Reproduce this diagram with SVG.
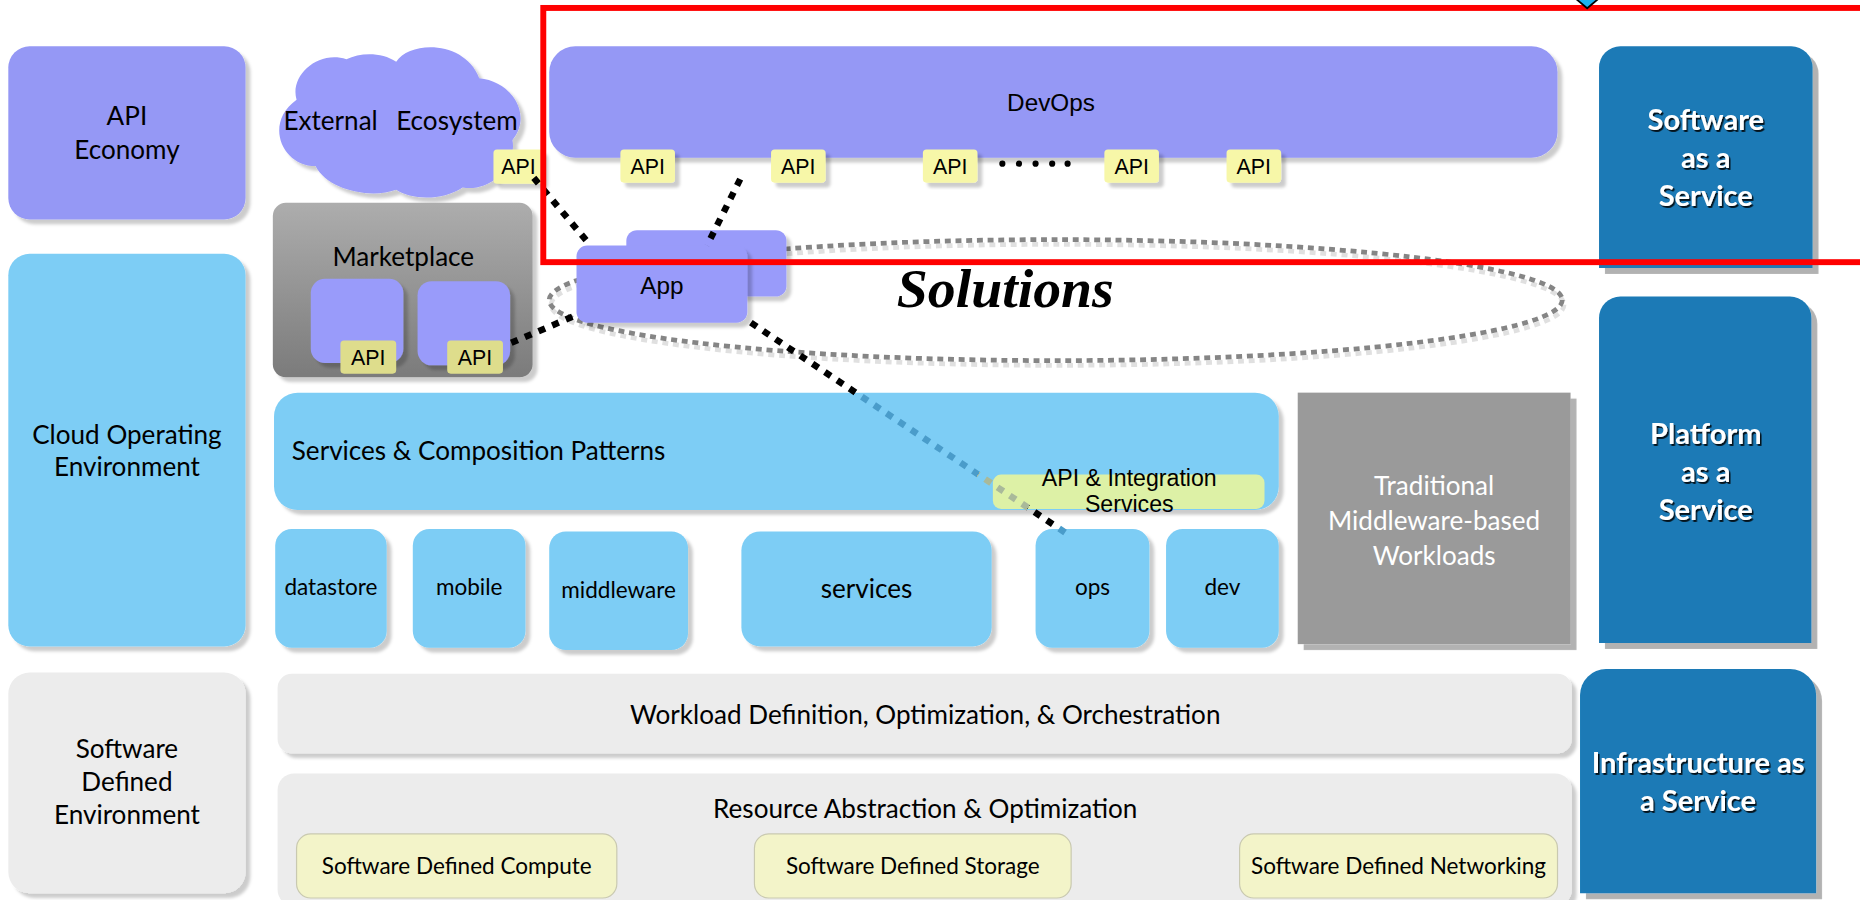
<svg xmlns="http://www.w3.org/2000/svg" width="1860" height="900" viewBox="0 0 1860 900">
<defs>
<style>
.t{font-family:Lato,"Noto Sans",sans-serif;font-size:22px;fill:#000;text-anchor:middle}
.ts{font-family:Lato,"Noto Sans",sans-serif;font-size:19px;fill:#000;text-anchor:middle}
.ta{font-family:"Liberation Sans",Arial,sans-serif;font-size:18px;fill:#000;text-anchor:middle}
.tb{font-family:Lato,"Noto Sans",sans-serif;font-size:24.5px;font-weight:bold;fill:#fff;text-anchor:middle}
.tw{font-family:Lato,"Noto Sans",sans-serif;font-size:22px;fill:#fff;text-anchor:middle}
.pw{fill:#9598f5}
.pw2{fill:#999bfa}
.lb{fill:#7dcdf5}
.gr{fill:#ececec}
.tag{fill:#f7f7a8}
.mtag{fill:#dedd8c}
.sd{fill:#f3f4c9;stroke:#c9c9b0;stroke-width:1}
.blue{fill:#1a7ab6}
.conn{fill:none;stroke:#000;stroke-width:5.5;stroke-dasharray:6 6.5}
</style>
<filter id="sh" x="-10%" y="-10%" width="130%" height="130%">
<feDropShadow dx="4" dy="4" stdDeviation="1.2" flood-color="#000" flood-opacity="0.2"/>
</filter>
<filter id="shb" x="-10%" y="-10%" width="130%" height="130%">
<feDropShadow dx="5" dy="5" stdDeviation="0.6" flood-color="#000" flood-opacity="0.3"/>
</filter>
<filter id="tsh" x="-10%" y="-20%" width="130%" height="150%">
<feDropShadow dx="1.3" dy="1.6" stdDeviation="0.6" flood-color="#000" flood-opacity="0.85"/>
</filter>
<linearGradient id="mkt" x1="0" y1="0" x2="0" y2="1">
<stop offset="0" stop-color="#adadad"/>
<stop offset="1" stop-color="#7b7b7b"/>
</linearGradient>
<linearGradient id="c4g" gradientUnits="userSpaceOnUse" x1="633" y1="272" x2="898" y2="449">
<stop offset="0.333" stop-color="#000"/>
<stop offset="0.333" stop-color="#4a9cca"/>
<stop offset="0.723" stop-color="#4a9cca"/>
<stop offset="0.723" stop-color="#a9b99a"/>
<stop offset="0.881" stop-color="#a9b99a"/>
<stop offset="0.881" stop-color="#000"/>
<stop offset="0.975" stop-color="#000"/>
<stop offset="0.975" stop-color="#4a9cca"/>
</linearGradient>
</defs>
<rect width="1860" height="900" fill="#fff"/>
<g transform="scale(1.18622)">

<g id="n-api-economy">
<rect class="pw" x="7" y="39" width="200" height="146" rx="18" filter="url(#sh)"/>
<text class="t" x="107" y="105">API</text>
<text class="t" x="107" y="134">Economy</text>
</g>

<g id="n-cloud-operating-environment">
<rect class="lb" x="7" y="214" width="200" height="331" rx="18" filter="url(#sh)"/>
<text class="t" x="107" y="374">Cloud Operating</text>
<text class="t" x="107" y="401">Environment</text>
</g>

<g id="n-software-defined-environment">
<rect class="gr" x="7" y="567" width="200" height="186" rx="18" filter="url(#sh)"/>
<text class="t" x="107" y="639">Software</text>
<text class="t" x="107" y="667">Defined</text>
<text class="t" x="107" y="695">Environment</text>
</g>

<g id="n-external-ecosystem">
<path class="pw2" filter="url(#sh)" d="M250 84 C244 64 268 42 292 50 C304 44 322 44 334 52 C346 34 392 34 404 66 C430 68 450 96 432 118 C436 140 414 162 390 158 C372 170 346 168 334 160 C312 168 276 160 266 140 C238 140 222 104 250 84 Z"/>
<text class="t" y="110" style="text-anchor:start"><tspan x="239">External</tspan><tspan x="334">Ecosystem</tspan></text>
</g>
<g id="n-api-external">
<rect class="tag" x="416" y="126" width="42" height="29" rx="3" filter="url(#sh)"/>
<text class="ta" x="437" y="147">API</text>
</g>

<g id="n-marketplace">
<rect x="230" y="171" width="219" height="147" rx="11" fill="url(#mkt)" filter="url(#sh)"/>
<text class="t" x="340" y="224">Marketplace</text>
<rect class="pw2" x="262" y="235" width="78" height="71" rx="12" filter="url(#sh)"/>
<rect class="pw2" x="352" y="237" width="78" height="71" rx="12" filter="url(#sh)"/>
</g>
<g id="n-api-market-1">
<rect class="mtag" x="287" y="287" width="47" height="28" rx="3"/>
<text class="ta" x="310.5" y="308">API</text>
</g>
<g id="n-api-market-2">
<rect class="mtag" x="377" y="287" width="47" height="28" rx="3"/>
<text class="ta" x="400.5" y="308">API</text>
</g>

<g id="n-devops">
<rect class="pw" x="463" y="39" width="850" height="94" rx="22" filter="url(#sh)"/>
<text class="ta" x="886" y="94" style="font-size:20.5px">DevOps</text>
</g>
<g id="n-api-devops-1"><rect class="tag" x="523" y="126" width="46" height="28" rx="3" filter="url(#sh)"/><text class="ta" x="546" y="147">API</text></g>
<g id="n-api-devops-2"><rect class="tag" x="650" y="126" width="46" height="28" rx="3" filter="url(#sh)"/><text class="ta" x="673" y="147">API</text></g>
<g id="n-api-devops-3"><rect class="tag" x="778" y="126" width="46" height="28" rx="3" filter="url(#sh)"/><text class="ta" x="801" y="147">API</text></g>
<g id="n-api-devops-dots" fill="#000">
<circle cx="845" cy="138" r="2.6"/><circle cx="859" cy="138" r="2.6"/><circle cx="873" cy="138" r="2.6"/><circle cx="887" cy="138" r="2.6"/><circle cx="900" cy="138" r="2.6"/>
</g>
<g id="n-api-devops-4"><rect class="tag" x="931" y="126" width="46" height="28" rx="3" filter="url(#sh)"/><text class="ta" x="954" y="147">API</text></g>
<g id="n-api-devops-5"><rect class="tag" x="1034" y="126" width="46" height="28" rx="3" filter="url(#sh)"/><text class="ta" x="1057" y="147">API</text></g>

<g id="n-solutions">
<ellipse cx="890" cy="254" rx="427" ry="51" fill="none" stroke="#000" stroke-opacity="0.12" stroke-width="4" stroke-dasharray="5 4" transform="translate(1.5 3)"/>
<ellipse cx="890" cy="253" rx="427" ry="51" fill="none" stroke="#858585" stroke-width="4" stroke-dasharray="5 4"/>
<text x="756" y="259" style="font-family:'Liberation Serif','DejaVu Serif',serif;font-style:italic;font-weight:bold;font-size:47px;fill:#000">Solutions</text>
</g>

<g id="n-app">
<rect class="pw2" x="528" y="194" width="135" height="56" rx="9" filter="url(#sh)"/>
<rect class="pw2" x="486" y="207" width="144" height="65" rx="9" filter="url(#sh)"/>
<text class="ta" x="558" y="248" style="font-size:20.5px">App</text>
</g>

<g id="n-saas">
<path class="blue" filter="url(#shb)" d="M1348 226 V57 A18 18 0 0 1 1366 39 H1510 A18 18 0 0 1 1528 57 V226 Z"/>
<g filter="url(#tsh)">
<text class="tb" x="1438" y="110">Software</text>
<text class="tb" x="1438" y="142">as a</text>
<text class="tb" x="1438" y="174">Service</text>
</g>
</g>

<g id="n-services-composition">
<rect class="lb" x="231" y="331" width="847" height="99" rx="20" filter="url(#sh)"/>
<text class="t" x="246" y="388" style="text-anchor:start">Services &amp; Composition Patterns</text>
</g>
<g id="n-api-integration">
<rect x="837" y="400" width="229" height="29" rx="7" fill="#ddf1a6"/>
<text class="ta" x="952" y="410" style="font-size:19.5px">API &amp; Integration</text>
<text class="ta" x="952" y="432" style="font-size:19.5px">Services</text>
</g>

<g id="n-datastore"><rect class="lb" x="232" y="446" width="94" height="100" rx="14" filter="url(#sh)"/><text class="ts" x="279" y="502">datastore</text></g>
<g id="n-mobile"><rect class="lb" x="348" y="446" width="95" height="100" rx="14" filter="url(#sh)"/><text class="ts" x="395.5" y="502">mobile</text></g>
<g id="n-middleware"><rect class="lb" x="463" y="448" width="117" height="100" rx="14" filter="url(#sh)"/><text class="ts" x="521.5" y="504">middleware</text></g>
<g id="n-services"><rect class="lb" x="625" y="448" width="211" height="97" rx="16" filter="url(#sh)"/><text class="t" x="730.5" y="504">services</text></g>
<g id="n-ops"><rect class="lb" x="873" y="446" width="96" height="100" rx="14" filter="url(#sh)"/><text class="ts" x="921" y="502">ops</text></g>
<g id="n-dev"><rect class="lb" x="983" y="446" width="95" height="100" rx="14" filter="url(#sh)"/><text class="ts" x="1030.5" y="502">dev</text></g>

<g id="n-traditional">
<rect x="1094" y="331" width="230" height="212" fill="#9a9a9a" filter="url(#shb)"/>
<text class="tw" x="1209" y="417">Traditional</text>
<text class="tw" x="1209" y="447">Middleware-based</text>
<text class="tw" x="1209" y="476">Workloads</text>
</g>

<g id="n-paas">
<path class="blue" filter="url(#shb)" d="M1348 542 V268 A18 18 0 0 1 1366 250 H1509 A18 18 0 0 1 1527 268 V542 Z"/>
<g filter="url(#tsh)">
<text class="tb" x="1438" y="374">Platform</text>
<text class="tb" x="1438" y="406">as a</text>
<text class="tb" x="1438" y="438">Service</text>
</g>
</g>

<g id="n-workload">
<rect class="gr" x="234" y="568" width="1091" height="67" rx="12" filter="url(#sh)"/>
<text class="t" x="780" y="610">Workload Definition, Optimization, &amp; Orchestration</text>
</g>
<g id="n-resource">
<rect class="gr" x="234" y="652" width="1091" height="112" rx="14" filter="url(#sh)"/>
<text class="t" x="780" y="690">Resource Abstraction &amp; Optimization</text>
</g>
<g id="n-sdc"><rect class="sd" x="250" y="703" width="270" height="54" rx="12"/><text class="ts" x="385" y="737">Software Defined Compute</text></g>
<g id="n-sds"><rect class="sd" x="636" y="703" width="267" height="54" rx="12"/><text class="ts" x="769.5" y="737">Software Defined Storage</text></g>
<g id="n-sdn"><rect class="sd" x="1045" y="703" width="268" height="54" rx="12"/><text class="ts" x="1179" y="737">Software Defined Networking</text></g>

<g id="n-iaas">
<path class="blue" filter="url(#shb)" d="M1332 753 V586 A22 22 0 0 1 1354 564 H1509 A22 22 0 0 1 1531 586 V753 Z"/>
<g filter="url(#tsh)">
<text class="tb" x="1431.5" y="652">Infrastructure as</text>
<text class="tb" x="1431.5" y="684">a Service</text>
</g>
</g>

<g id="connectors">
<path class="conn" d="M450 150 L497 206"/>
<path class="conn" d="M624 151 L596 207"/>
<path class="conn" d="M431 289 L485 266"/>
<path class="conn" d="M633 272 L898 449" style="stroke:url(#c4g)"/>
</g>

<g id="n-highlight">
<rect x="458" y="6.7" width="1200" height="214.3" fill="none" stroke="#ff0000" stroke-width="5"/>
</g>
<g id="n-marker">
<path d="M1338 -16 L1351 -4 L1338 7 L1325 -4 Z" fill="#1ab2ee" stroke="#000" stroke-width="1.5"/>
</g>

</g>
</svg>
